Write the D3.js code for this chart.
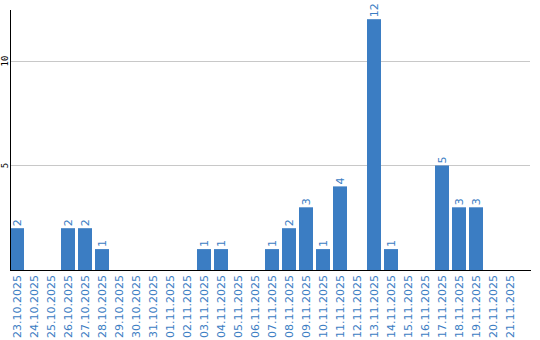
<!DOCTYPE html>
<html lang="en">

<head>
    <meta charset="utf-8">
    <title>Bars</title>
    <script type="text/javascript" src="https://d3js.org/d3.v7.min.js"></script>
    <style>
        body { margin: 0; background: #fff; }
        text { font-family: "DejaVu Sans", sans-serif; }
    </style>
</head>

<body>
    <div id="container"></div>
    <script type="text/javascript">
        var w = 540;
        var h = 340;

        var dates = ["23.10.2025", "24.10.2025", "25.10.2025", "26.10.2025", "27.10.2025",
            "28.10.2025", "29.10.2025", "30.10.2025", "31.10.2025", "01.11.2025",
            "02.11.2025", "03.11.2025", "04.11.2025", "05.11.2025", "06.11.2025",
            "07.11.2025", "08.11.2025", "09.11.2025", "10.11.2025", "11.11.2025",
            "12.11.2025", "13.11.2025", "14.11.2025", "15.11.2025", "16.11.2025",
            "17.11.2025", "18.11.2025", "19.11.2025", "20.11.2025", "21.11.2025"];
        var counts = [2, 0, 0, 2, 2, 1, 0, 0, 0, 0, 0, 1, 1, 0, 0, 1, 2, 3, 1, 4, 0, 12, 1, 0, 0, 5, 3, 3, 0, 0];
        var yTicks = [5, 10];

        var blue = "#3b7dc3";

        const svg = d3.select("div#container")
            .append("svg")
            .attr("width", w)
            .attr("height", h);

        // 17px per day, bars 14px wide
        var x = d3.scaleBand().domain(dates).range([10, 517]).paddingInner(3 / 17).paddingOuter(0);
        var y = d3.scaleLinear().domain([0, 12.44]).range([270, 10]);

        var data = dates.map((d, i) => ({ date: d, value: counts[i] })).filter((d) => d.value > 0);

        // grid lines
        svg.selectAll("line.grid")
            .data(yTicks)
            .enter()
            .append("line")
            .attr("class", "grid")
            .attr("x1", 10)
            .attr("x2", 530)
            .attr("y1", (d) => Math.round(y(d)) + 0.5)
            .attr("y2", (d) => Math.round(y(d)) + 0.5)
            .attr("stroke", "#c8c8c8");

        // y tick labels (rotated)
        svg.selectAll("text.ytick")
            .data(yTicks)
            .enter()
            .append("text")
            .attr("class", "ytick")
            .attr("transform", (d) => "translate(5," + y(d) + ") rotate(-90)")
            .attr("text-anchor", "middle")
            .attr("dy", "0.35em")
            .style("font-family", "'DejaVu Sans Mono', monospace")
            .style("font-size", "9px")
            .attr("fill", "#000")
            .text((d) => d);

        // bars
        svg.selectAll("rect.bar")
            .data(data)
            .enter()
            .append("rect")
            .attr("class", "bar")
            .attr("x", (d) => x(d.date))
            .attr("width", x.bandwidth())
            .attr("y", (d) => y(d.value))
            .attr("height", (d) => y(0) - y(d.value))
            .attr("fill", blue);

        // value labels
        svg.selectAll("text.val")
            .data(data)
            .enter()
            .append("text")
            .attr("class", "val")
            .attr("transform", (d) => "translate(" + (x(d.date) + x.bandwidth() / 2) + "," + (y(d.value) - 2) + ") rotate(-90)")
            .attr("dy", "0.35em")
            .style("font-size", "11px")
            .attr("fill", blue)
            .text((d) => d.value);

        // date labels
        svg.selectAll("text.date")
            .data(dates)
            .enter()
            .append("text")
            .attr("class", "date")
            .attr("transform", (d) => "translate(" + (x(d) + x.bandwidth() / 2) + ",275) rotate(-90)")
            .attr("text-anchor", "end")
            .attr("dy", "0.35em")
            .style("font-size", "11px")
            .attr("fill", blue)
            .text((d) => d);

        // axes lines
        svg.append("line")
            .attr("x1", 10.5).attr("x2", 10.5)
            .attr("y1", 10).attr("y2", 270)
            .attr("stroke", "#000");
        svg.append("line")
            .attr("x1", 10).attr("x2", 531)
            .attr("y1", 270.5).attr("y2", 270.5)
            .attr("stroke", "#000");
    </script>
</body>

</html>
